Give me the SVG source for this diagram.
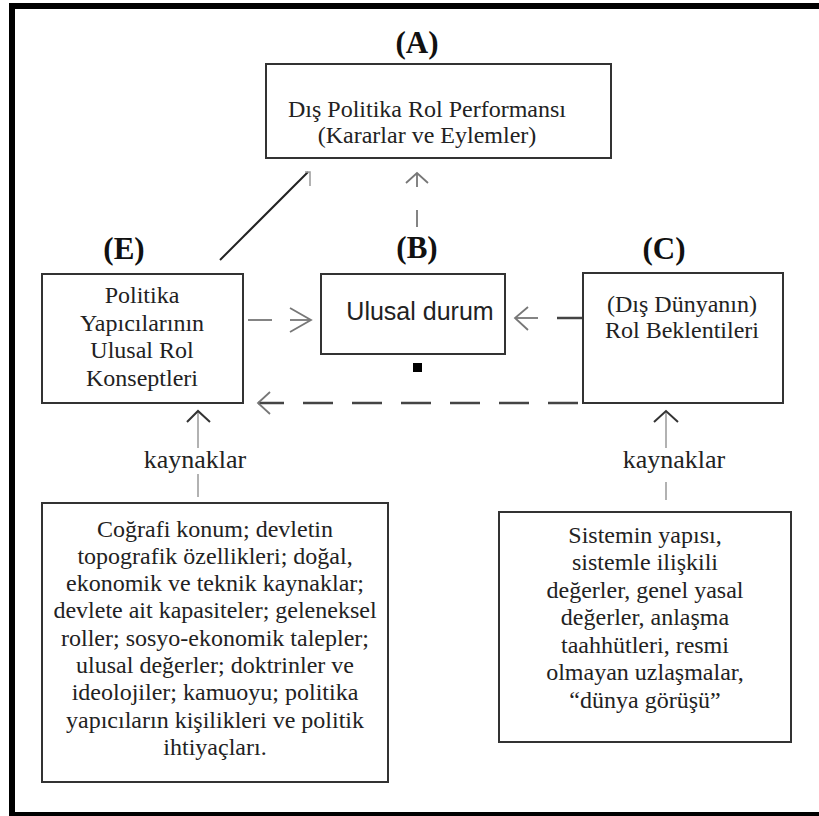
<svg xmlns="http://www.w3.org/2000/svg" width="819" height="816" viewBox="0 0 819 816">
<style>
.box{fill:#fff;stroke:#333;stroke-width:2}
.t{font-family:"Liberation Serif","Times New Roman",serif;font-size:24px;fill:#222;text-anchor:middle}
.lbl{font-family:"Liberation Serif","Times New Roman",serif;font-size:31px;font-weight:bold;fill:#111;text-anchor:middle}
.src{font-family:"Liberation Serif","Times New Roman",serif;font-size:26px;fill:#222;text-anchor:middle}
.gl{stroke:#999;stroke-width:1.5;fill:none}
.ah{stroke:#777;stroke-width:1.8;fill:none}
.dash{stroke:#444;stroke-width:2.5;fill:none}
</style>
<rect x="0" y="0" width="819" height="816" fill="#fff"/>
<rect x="12" y="6" width="830" height="809" fill="none" stroke="#000" stroke-width="6"/>
<g id="connectors">
<line x1="220" y1="260" x2="308" y2="172" stroke="#222" stroke-width="2"/>
<polyline class="gl" points="305,172 310,172 310,186"/>
<line class="ah" x1="417" y1="173" x2="417" y2="187"/>
<polyline class="ah" points="406,183 417,173 428,183"/>
<line class="ah" x1="417" y1="210" x2="417" y2="227"/>
<line class="ah" x1="248" y1="320" x2="272" y2="320"/>
<line class="ah" x1="290" y1="320" x2="311" y2="320"/>
<polyline class="ah" points="290,308 311,320 290,332"/>
<line class="dash" x1="557" y1="318" x2="582" y2="318"/>
<line class="ah" x1="515" y1="318" x2="538" y2="318"/>
<polyline class="ah" points="528,307 515,318 528,330"/>
<path class="dash" d="M578,403 H258" stroke-dasharray="30 19"/>
<polyline class="ah" points="270,392 258,403 270,414"/>
<line class="gl" x1="198" y1="411" x2="198" y2="448"/>
<polyline points="187,422 198,411 210,422" fill="none" stroke="#333" stroke-width="2"/>
<line class="gl" x1="198" y1="474" x2="198" y2="497"/>
<line class="gl" x1="666" y1="411" x2="666" y2="448"/>
<polyline points="654,422 666,411 678,422" fill="none" stroke="#333" stroke-width="2"/>
<line class="gl" x1="666" y1="482" x2="666" y2="500"/>
</g>
<g id="nodeA">
<text class="lbl" x="417" y="53">(A)</text>
<rect class="box" x="266" y="64" width="345" height="94"/>
<text class="t" x="427" y="117">Dış Politika Rol Performansı</text>
<text class="t" x="427" y="143">(Kararlar ve Eylemler)</text>
</g>
<g id="nodeB">
<text class="lbl" x="417" y="258">(B)</text>
<rect class="box" x="321" y="274" width="184" height="80"/>
<text x="420" y="320" font-family="'Liberation Sans',Arial,sans-serif" font-size="25" fill="#222" text-anchor="middle">Ulusal durum</text>
<rect x="413" y="363" width="9" height="9" fill="#000"/>
</g>
<g id="nodeC">
<text class="lbl" x="664" y="259">(C)</text>
<rect class="box" x="583" y="273" width="200" height="130"/>
<text class="t" x="682" y="312">(Dış Dünyanın)</text>
<text class="t" x="682" y="338">Rol Beklentileri</text>
</g>
<g id="nodeE">
<text class="lbl" x="124" y="259">(E)</text>
<rect class="box" x="42" y="274" width="201" height="129"/>
<text class="t" x="142" y="303">Politika</text>
<text class="t" x="142" y="331">Yapıcılarının</text>
<text class="t" x="142" y="358">Ulusal Rol</text>
<text class="t" x="142" y="386">Konseptleri</text>
</g>
<g id="labelLeft"><text class="src" x="195" y="468">kaynaklar</text></g>
<g id="labelRight"><text class="src" x="674" y="468">kaynaklar</text></g>
<g id="sourcesE">
<rect class="box" x="42" y="503" width="346" height="279"/>
<text class="t" x="215" y="537">Coğrafi konum; devletin</text>
<text class="t" x="215" y="564">topografik özellikleri; doğal,</text>
<text class="t" x="215" y="591">ekonomik ve teknik kaynaklar;</text>
<text class="t" x="215" y="618">devlete ait kapasiteler; geleneksel</text>
<text class="t" x="215" y="646">roller; sosyo-ekonomik talepler;</text>
<text class="t" x="215" y="673">ulusal değerler; doktrinler ve</text>
<text class="t" x="215" y="700">ideolojiler; kamuoyu; politika</text>
<text class="t" x="215" y="728">yapıcıların kişilikleri ve politik</text>
<text class="t" x="215" y="755">ihtiyaçları.</text>
</g>
<g id="sourcesC">
<rect class="box" x="499" y="512" width="292" height="230"/>
<text class="t" x="645" y="543">Sistemin yapısı,</text>
<text class="t" x="645" y="570">sistemle ilişkili</text>
<text class="t" x="645" y="598">değerler, genel yasal</text>
<text class="t" x="645" y="625">değerler, anlaşma</text>
<text class="t" x="645" y="653">taahhütleri, resmi</text>
<text class="t" x="645" y="680">olmayan uzlaşmalar,</text>
<text class="t" x="645" y="708">“dünya görüşü”</text>
</g>
</svg>
